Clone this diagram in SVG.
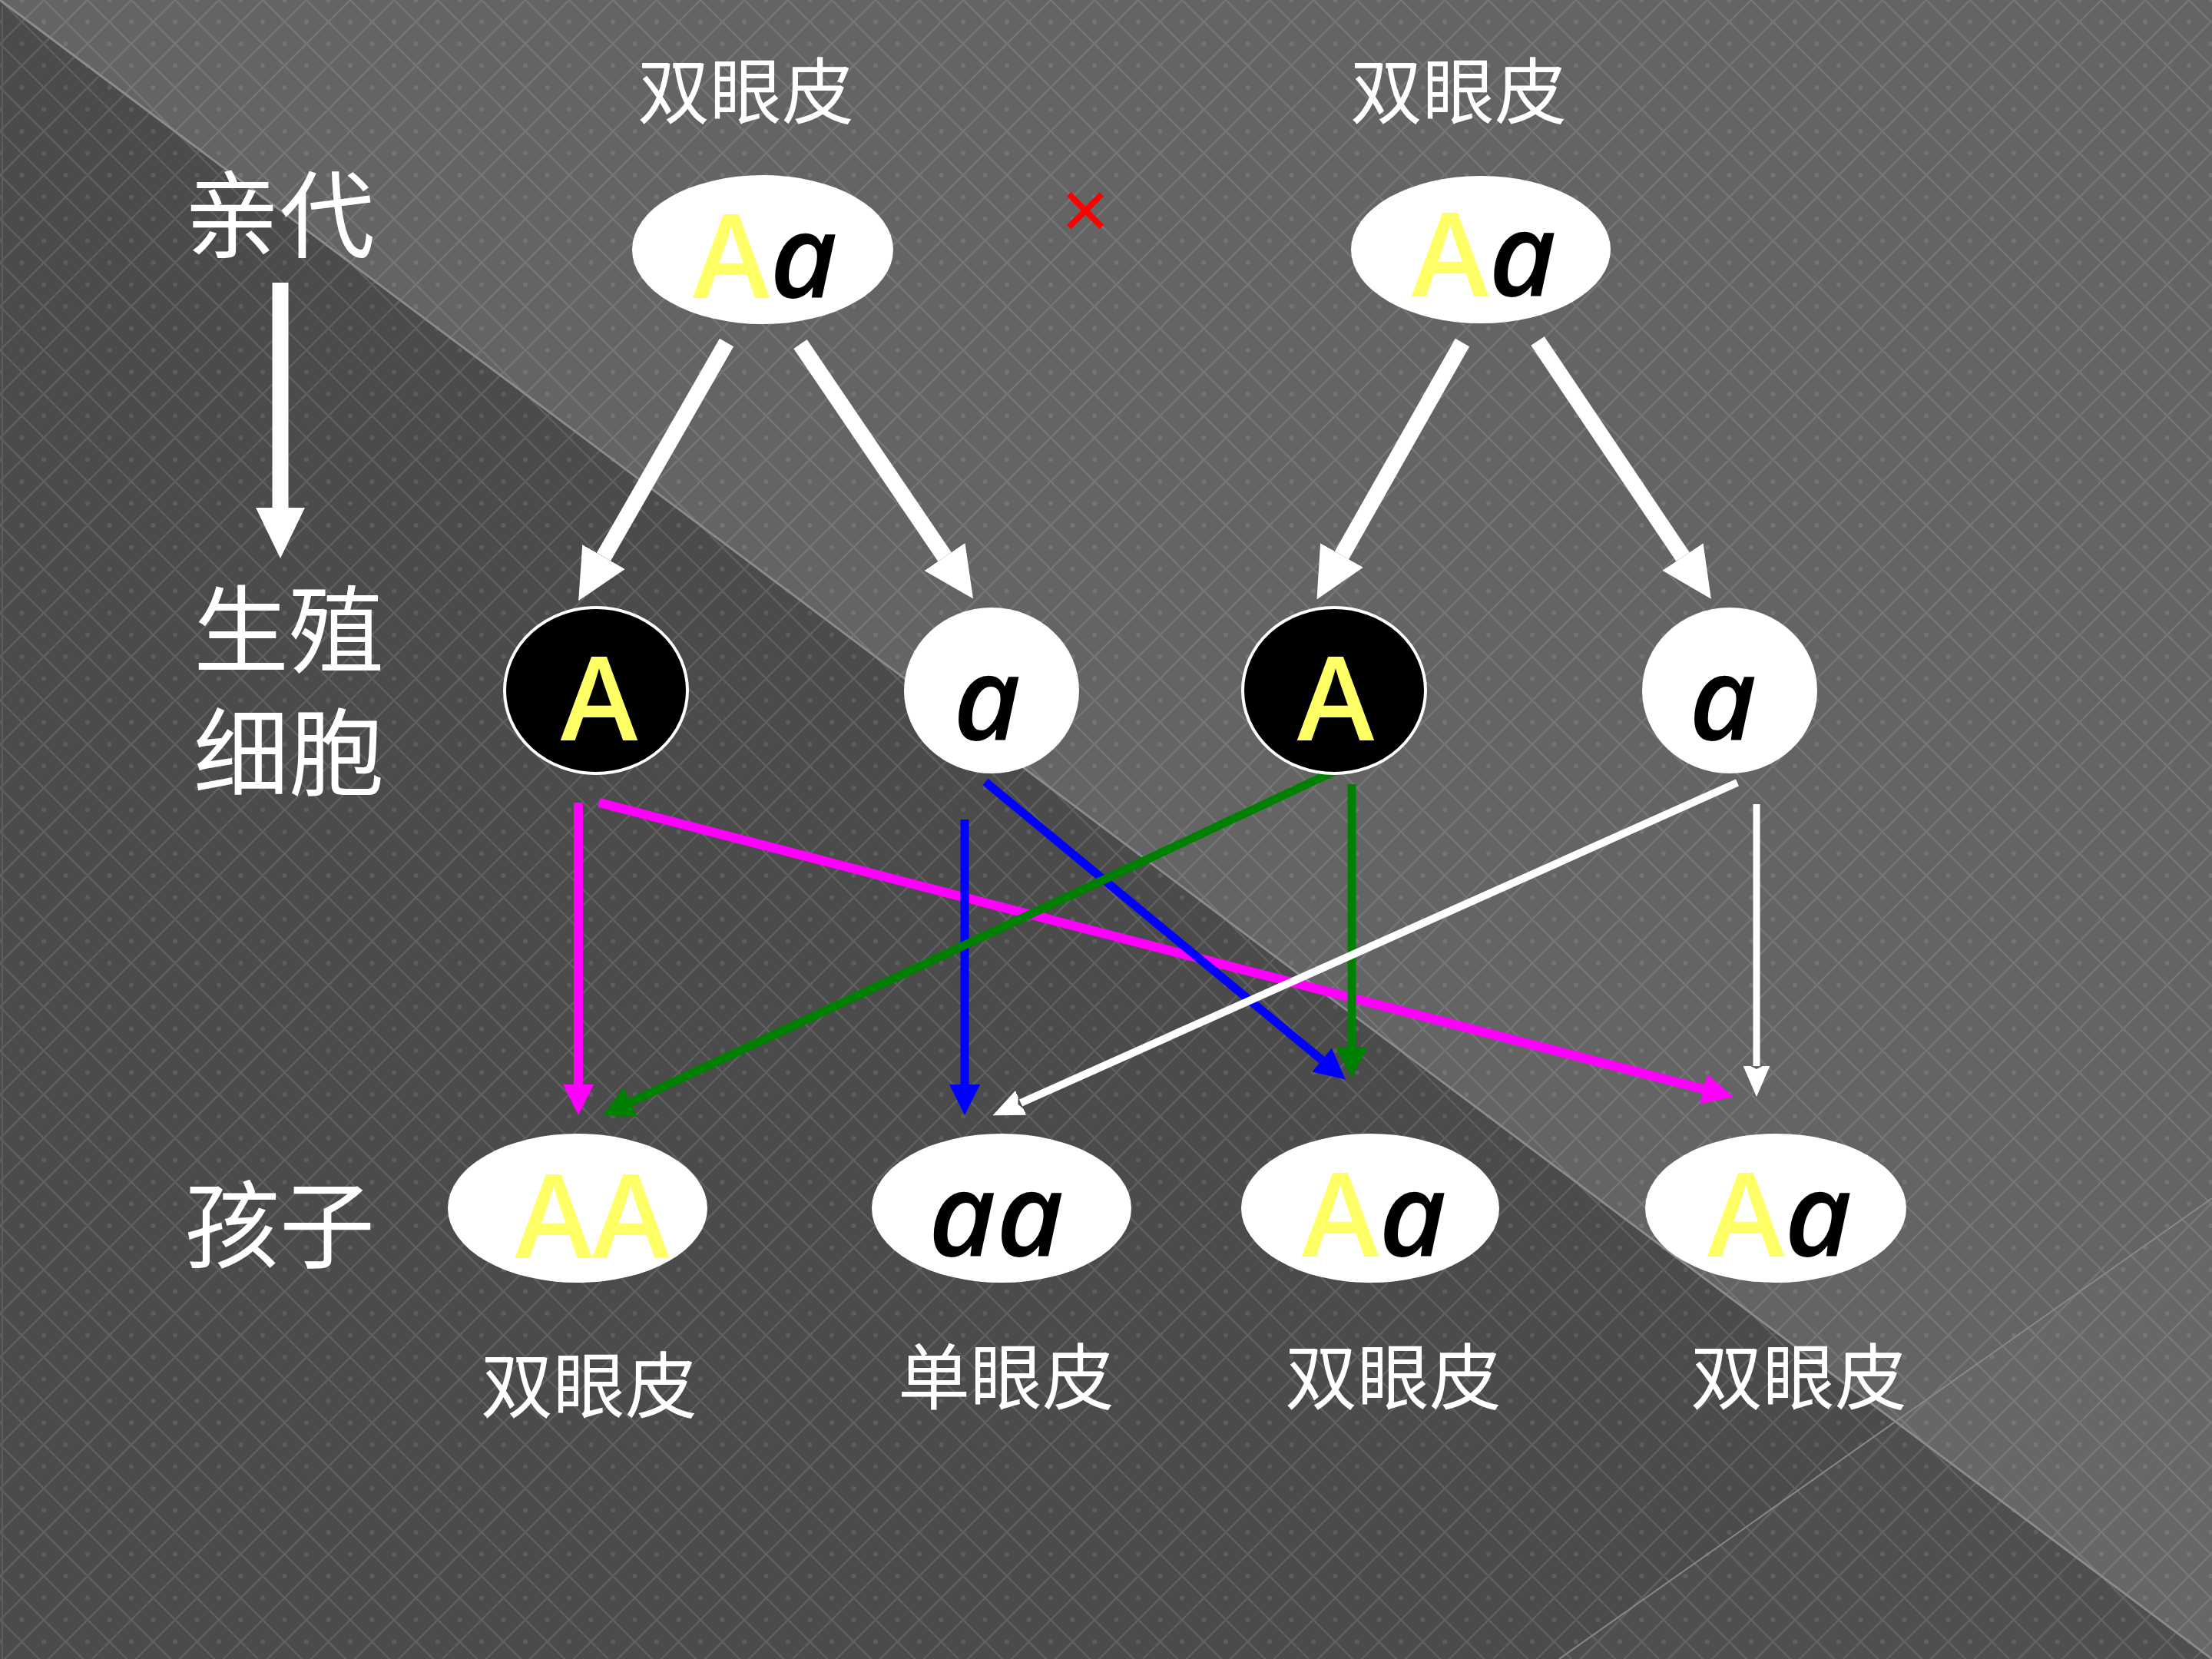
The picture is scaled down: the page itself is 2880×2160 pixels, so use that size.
<svg xmlns="http://www.w3.org/2000/svg" width="2880" height="2160" viewBox="0 0 2880 2160">
<defs>
<pattern id="lattice" width="57" height="57" patternUnits="userSpaceOnUse">
<path d="M0,0 L57,57 M57,0 L0,57" stroke="#ffffff" stroke-opacity="0.11" stroke-width="2.5" fill="none"/>
<circle cx="28.5" cy="0" r="3" fill="#ffffff" fill-opacity="0.1"/>
<circle cx="28.5" cy="57" r="3" fill="#ffffff" fill-opacity="0.1"/>
<circle cx="0" cy="28.5" r="3" fill="#ffffff" fill-opacity="0.1"/>
<circle cx="57" cy="28.5" r="3" fill="#ffffff" fill-opacity="0.1"/>
</pattern>
<marker id="headBig" markerUnits="userSpaceOnUse" markerWidth="70" markerHeight="70" viewBox="0 -35 70 70" refX="0" refY="0" orient="auto">
<path d="M0,-32 L66,0 L0,32 Z" fill="#ffffff"/>
</marker>
<marker id="hMag" markerUnits="userSpaceOnUse" markerWidth="44" markerHeight="46" viewBox="0 -23 44 46" refX="0" refY="0" orient="auto">
<path d="M0,-20 L40,0 L0,20 Z" fill="#ff00ff"/>
</marker>
<marker id="hBlue" markerUnits="userSpaceOnUse" markerWidth="44" markerHeight="46" viewBox="0 -23 44 46" refX="0" refY="0" orient="auto">
<path d="M0,-20 L40,0 L0,20 Z" fill="#0000ff"/>
</marker>
<marker id="hGreen" markerUnits="userSpaceOnUse" markerWidth="44" markerHeight="46" viewBox="0 -23 44 46" refX="0" refY="0" orient="auto">
<path d="M0,-21 L40,0 L0,21 Z" fill="#008000"/>
</marker>
<marker id="hWhite" markerUnits="userSpaceOnUse" markerWidth="44" markerHeight="46" viewBox="0 -23 44 46" refX="0" refY="0" orient="auto">
<path d="M-6,-20 L40,0 L-6,20 L4,0 Z" fill="#ffffff"/>
</marker>
</defs>
<style>
.cjk{font-family:"Noto Sans CJK SC","Noto Sans CJK TC",sans-serif;fill:#ffffff;text-anchor:middle;}
.lbl{font-size:94px;}
.row{font-size:124px;}
.gene{font-family:"Open Sans","DejaVu Sans",sans-serif;font-weight:600;font-size:152px;text-anchor:middle;}
.Y{fill:#ffff66;}
.K{fill:#000000;font-style:italic;font-weight:600;}
.wnode{fill:#ffffff;}
.bnode{fill:#000000;stroke:#ffffff;stroke-width:4;}
.thick{stroke:#ffffff;stroke-width:21;fill:none;marker-end:url(#headBig);}
.thin{fill:none;}
</style>

<!-- background -->
<g id="background">
<rect x="0" y="0" width="2880" height="2160" fill="#4b4b4b"/>
<polygon points="0,0 2880,0 2880,2160" fill="#646464"/>
<polygon points="2030,2160 2880,1560 2880,2160" fill="#ffffff" fill-opacity="0.025"/>
<rect x="0" y="0" width="2880" height="2160" fill="url(#lattice)"/>
<line x1="0" y1="0" x2="2880" y2="2160" stroke="#8c8c8c" stroke-width="3"/>
<line x1="2030" y1="2160" x2="2880" y2="1560" stroke="#888888" stroke-width="2"/>
<line x1="3" y1="8" x2="3" y2="2160" stroke="#5c5c5c" stroke-width="2"/>
</g>

<!-- row labels -->
<g id="label-parents"><text class="cjk row" x="364" y="326">亲代</text></g>
<g id="label-gametes"><text class="cjk row"><tspan x="376" y="866">生殖</tspan><tspan x="376" y="1026">细胞</tspan></text></g>
<g id="label-children"><text class="cjk row" x="364" y="1641">孩子</text></g>

<!-- connectors -->
<g id="connectors">
<line class="thick" x1="365" y1="368" x2="365" y2="661"/>
<line class="thick" x1="946" y1="446" x2="786" y2="725"/>
<line class="thick" x1="1042" y1="448" x2="1230" y2="725"/>
<line class="thick" x1="1904" y1="446" x2="1747" y2="723"/>
<line class="thick" x1="2002" y1="444" x2="2191" y2="725"/>

<line class="thin" x1="753" y1="1045" x2="753" y2="1412" stroke="#ff00ff" stroke-width="12" marker-end="url(#hMag)"/>
<line class="thin" x1="780" y1="1045" x2="2218" y2="1418" stroke="#ff00ff" stroke-width="12" marker-end="url(#hMag)"/>
<line class="thin" x1="1256" y1="1067" x2="1256" y2="1412" stroke="#0000ff" stroke-width="11" marker-end="url(#hBlue)"/>
<line class="thin" x1="1283" y1="1018" x2="1721" y2="1380" stroke="#0000ff" stroke-width="11" marker-end="url(#hBlue)"/>
<line class="thin" x1="1757" y1="995" x2="821" y2="1435" stroke="#008000" stroke-width="11" marker-end="url(#hGreen)"/>
<line class="thin" x1="1760" y1="1021" x2="1760" y2="1363" stroke="#008000" stroke-width="11" marker-end="url(#hGreen)"/>
<line class="thin" x1="2262" y1="1019" x2="1329" y2="1436" stroke="#ffffff" stroke-width="10" marker-end="url(#hWhite)"/>
<line class="thin" x1="2287" y1="1047" x2="2287" y2="1388" stroke="#ffffff" stroke-width="9" marker-end="url(#hWhite)"/>
</g>

<!-- parents -->
<g id="parent1">
<text class="cjk lbl" x="971" y="154">双眼皮</text>
<ellipse class="wnode" cx="993" cy="325" rx="170" ry="97"/>
<text class="gene" x="996" y="388"><tspan class="Y">A</tspan><tspan class="K">a</tspan></text>
</g>
<g id="cross"><text x="1413" y="310" font-family="Liberation Sans, sans-serif" font-size="108" fill="#ff0000" text-anchor="middle">×</text></g>
<g id="parent2">
<text class="cjk lbl" x="1899" y="154">双眼皮</text>
<ellipse class="wnode" cx="1928" cy="325" rx="169" ry="96"/>
<text class="gene" x="1932" y="386"><tspan class="Y">A</tspan><tspan class="K">a</tspan></text>
</g>

<!-- gametes -->
<g id="gamete1">
<ellipse class="bnode" cx="776" cy="899" rx="119" ry="108"/>
<text class="gene Y" x="780" y="964">A</text>
</g>
<g id="gamete2">
<ellipse class="wnode" cx="1291" cy="899" rx="114" ry="108"/>
<text class="gene K" x="1285" y="964">a</text>
</g>
<g id="gamete3">
<ellipse class="bnode" cx="1737" cy="899" rx="119" ry="108"/>
<text class="gene Y" x="1739" y="964">A</text>
</g>
<g id="gamete4">
<ellipse class="wnode" cx="2252" cy="899" rx="114" ry="108"/>
<text class="gene K" x="2243" y="964">a</text>
</g>

<!-- children -->
<g id="child1">
<ellipse class="wnode" cx="752" cy="1573" rx="169" ry="97"/>
<text class="gene" x="771" y="1638"><tspan class="Y">AA</tspan></text>
<text class="cjk lbl" x="767" y="1839">双眼皮</text>
</g>
<g id="child2">
<ellipse class="wnode" cx="1304" cy="1573" rx="169" ry="97"/>
<text class="gene" x="1297" y="1636"><tspan class="K">aa</tspan></text>
<text class="cjk lbl" x="1310" y="1828">单眼皮</text>
</g>
<g id="child3">
<ellipse class="wnode" cx="1784" cy="1573" rx="168" ry="97"/>
<text class="gene" x="1789" y="1636"><tspan class="Y">A</tspan><tspan class="K">a</tspan></text>
<text class="cjk lbl" x="1814" y="1828">双眼皮</text>
</g>
<g id="child4">
<ellipse class="wnode" cx="2312" cy="1573" rx="170" ry="97"/>
<text class="gene" x="2317" y="1636"><tspan class="Y">A</tspan><tspan class="K">a</tspan></text>
<text class="cjk lbl" x="2342" y="1828">双眼皮</text>
</g>
</svg>
